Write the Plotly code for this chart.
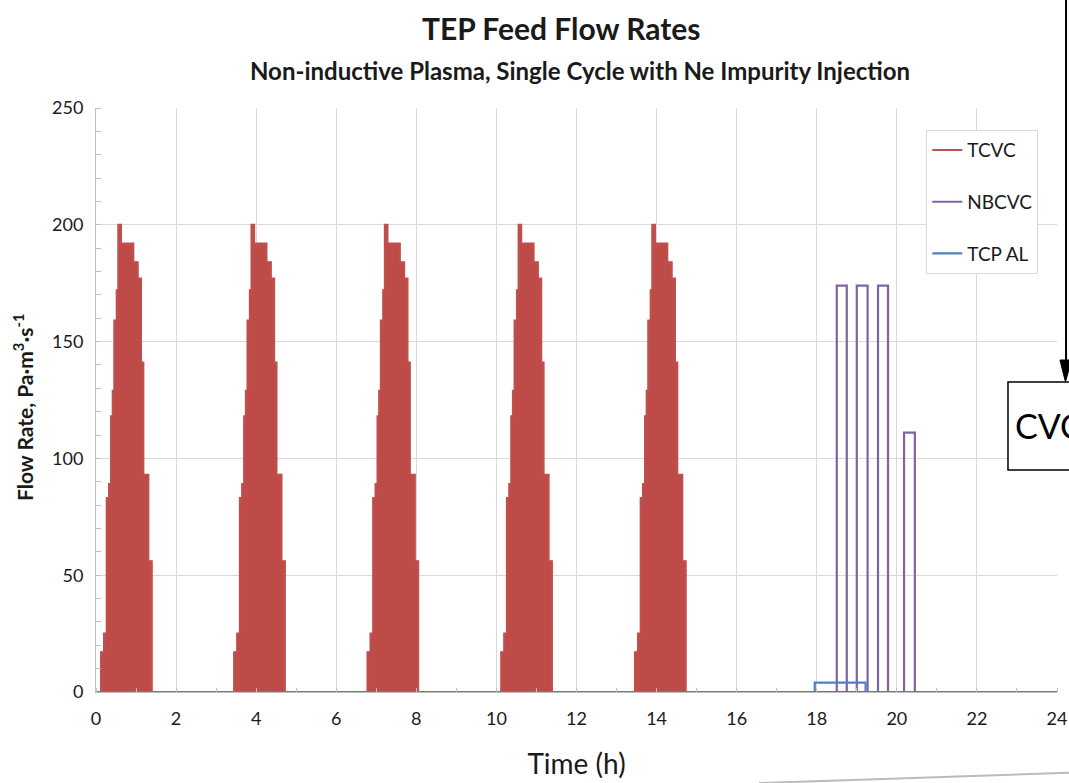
import plotly.graph_objects as go

# TCVC: pulsed bursts, same step profile repeated at each burst start (h)
tcvc_burst_starts = [0.125, 3.45, 6.78, 10.12, 13.46]
tcvc_step_offsets = [0.0, 0.075, 0.142, 0.2, 0.25, 0.292, 0.333, 0.392, 0.433,
                     0.5, 0.808, 0.917, 1.0, 1.058, 1.183]
tcvc_step_values = [17, 25, 83, 89, 118, 129, 159, 172, 200,
                    192, 184, 177, 141, 93, 56]
tcvc_burst_length = 1.267

# NBCVC: rectangular pulses
nbcvc_start = [18.5, 19.0, 19.53, 20.18]
nbcvc_end = [18.75, 19.27, 19.78, 20.45]
nbcvc_value = [174, 174, 174, 111]

# TCP AL: one low plateau
tcpal_start = [17.95]
tcpal_end = [19.22]
tcpal_value = [4]

x_ticks = list(range(0, 25, 2))
y_ticks = [0, 50, 100, 150, 200, 250]


def pulses(starts, ends, values):
    xs, ys = [0], [0]
    for s, e, v in zip(starts, ends, values):
        xs += [s, e]
        ys += [v, 0]
    xs.append(24)
    ys.append(0)
    return xs, ys


# build TCVC step series
tx, ty = [0], [0]
for b in tcvc_burst_starts:
    for off, v in zip(tcvc_step_offsets, tcvc_step_values):
        tx.append(b + off)
        ty.append(v)
    tx.append(b + tcvc_burst_length)
    ty.append(0)
tx.append(24)
ty.append(0)

nx, ny = pulses(nbcvc_start, nbcvc_end, nbcvc_value)
ax_, ay_ = pulses(tcpal_start, tcpal_end, tcpal_value)

red = "#C0504D"
fig = go.Figure()
# filled pulses (legend shows the line version below)
fig.add_trace(go.Scatter(x=tx, y=ty, mode="lines", line_shape="hv",
                         line=dict(color=red, width=1), fill="tozeroy",
                         fillcolor="#BF4B48", showlegend=False, hoverinfo="skip"))
fig.add_trace(go.Scatter(x=tx, y=ty, name="TCVC", mode="lines", line_shape="hv",
                         line=dict(color=red, width=2), legendgroup="a"))
fig.add_trace(go.Scatter(x=nx, y=ny, name="NBCVC", mode="lines", line_shape="hv",
                         line=dict(color="#8064A2", width=2.2), legendgroup="b"))
fig.add_trace(go.Scatter(x=ax_, y=ay_, name="TCP AL", mode="lines", line_shape="hv",
                         line=dict(color="#4F81BD", width=2.2), legendgroup="c"))

font = "Lato, 'Open Sans', sans-serif"
fig.update_layout(
    width=1069, height=783,
    margin=dict(l=96, r=12, t=108, b=91, autoexpand=False),
    paper_bgcolor="white", plot_bgcolor="white",
    font=dict(family=font, color="#1a1a1a", size=18),
    showlegend=True,
    legend=dict(x=0.864, y=0.962, xanchor="left", yanchor="top",
                bgcolor="white", bordercolor="#D9D9D9", borderwidth=1,
                font=dict(size=19), tracegroupgap=24, itemwidth=30),
)
fig.update_xaxes(range=[0, 24], tickvals=x_ticks, showgrid=True, gridcolor="#D9D9D9",
                 showline=True, linecolor="#BFBFBF", zeroline=False,
                 ticks="", ticklabelstandoff=10, tickfont=dict(size=18),
                 minor=dict(dtick=1, ticks="inside", ticklen=4, tickcolor="#BFBFBF",
                            showgrid=False),
                 title=dict(text="Time (h)", font=dict(size=28), standoff=26))
fig.update_yaxes(range=[0, 250], tickvals=y_ticks, showgrid=True, gridcolor="#D9D9D9",
                 showline=True, linecolor="#BFBFBF", zeroline=False,
                 ticks="", ticklabelstandoff=8, tickfont=dict(size=18),
                 minor=dict(dtick=10, ticks="inside", ticklen=5, tickcolor="#BFBFBF",
                            showgrid=False))

fig.add_annotation(text="<b>TEP Feed Flow Rates</b>", xref="paper", yref="paper",
                   x=0.484, y=1.137, xanchor="center", yanchor="middle",
                   showarrow=False, font=dict(size=30))
fig.add_annotation(text="<b>Non-inductive Plasma, Single Cycle with Ne Impurity Injection</b>",
                   xref="paper", yref="paper", x=0.504, y=1.065, xanchor="center",
                   yanchor="middle", showarrow=False, font=dict(size=24))
fig.add_annotation(text="<b>Flow Rate, Pa·m<sup>3</sup>·s<sup>-1</sup></b>",
                   xref="paper", yref="paper", x=-0.076, y=0.488, textangle=-90,
                   xanchor="center", yanchor="middle", showarrow=False,
                   font=dict(size=21))

# callout box and arrow at the right edge
fig.add_shape(type="rect", xref="paper", yref="paper", x0=0.949, x1=1.03,
              y0=0.380, y1=0.531, line=dict(color="black", width=1.5),
              fillcolor="white")
fig.add_annotation(text="CVC", xref="paper", yref="paper", x=0.954, y=0.457,
                   xanchor="left", yanchor="middle", showarrow=False,
                   font=dict(size=34, color="black"))
fig.add_shape(type="line", xref="paper", yref="paper", x0=1.0094, x1=1.0094,
              y0=0.566, y1=1.2, line=dict(color="black", width=2))
fig.add_shape(type="path", xref="paper", yref="paper",
              path="M 1.0031 0.5685 L 1.0151 0.5685 L 1.0088 0.5308 Z",
              fillcolor="black", line=dict(color="black", width=1))
fig.add_shape(type="line", xref="paper", yref="paper", x0=0.69, x1=1.02,
              y0=-0.156, y1=-0.138, line=dict(color="#BBBBBB", width=2))

# drop the default page margin so the figure fills the window exactly
fig.write_html("out.html", config={"displayModeBar": False},
               post_script="document.body.style.margin='0';"
                           "document.body.style.overflow='hidden';")
